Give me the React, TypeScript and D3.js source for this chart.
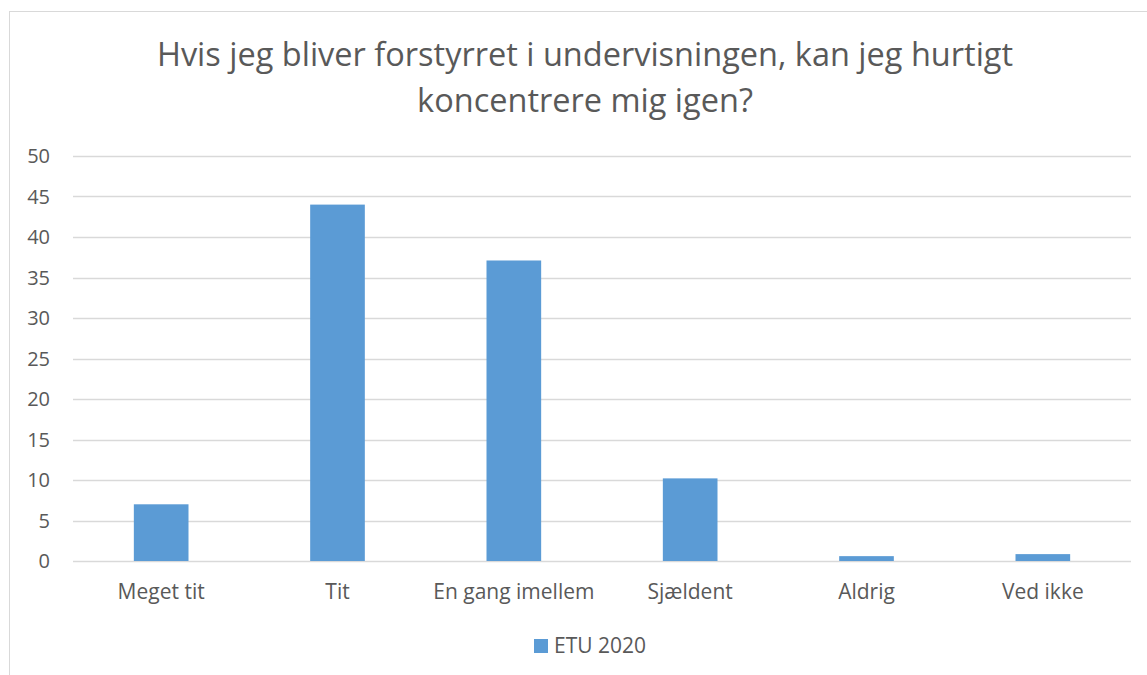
import React, { useRef, useEffect } from "react";
import * as d3 from "d3";

const categories = ["Meget tit", "Tit", "En gang imellem", "Sjældent", "Aldrig", "Ved ikke"];
const values = [7, 44, 37.1, 10.2, 0.6, 0.85];
const yTicks = [0, 5, 10, 15, 20, 25, 30, 35, 40, 45, 50];
const seriesName = "ETU 2020";
const titleLines = [
  "Hvis jeg bliver forstyrret i undervisningen, kan jeg hurtigt",
  "koncentrere mig igen?",
];

const App: React.FC = () => {
  const svgRef = useRef<SVGSVGElement>(null);

  const width = 1147;
  const height = 675;
  const margin = { top: 156, right: 16, bottom: 114, left: 73 };
  const font = "'Open Sans', 'Noto Sans', sans-serif";
  const textColor = "#595959";
  const barColor = "#5b9bd5";

  useEffect(() => {
    const svg = d3.select(svgRef.current);
    svg.selectAll("*").remove();

    const chartWidth = width - margin.left - margin.right;
    const chartHeight = height - margin.top - margin.bottom;

    // chart frame
    svg
      .append("rect")
      .attr("x", 9.5)
      .attr("y", 11.5)
      .attr("width", width + 20)
      .attr("height", height + 20)
      .attr("fill", "white")
      .attr("stroke", "#d9d9d9")
      .attr("stroke-width", 1);

    // Title
    svg
      .append("text")
      .attr("text-anchor", "middle")
      .style("font-family", font)
      .style("font-size", "32.5px")
      .style("fill", textColor)
      .selectAll("tspan")
      .data(titleLines)
      .join("tspan")
      .attr("x", 585)
      .attr("y", (_, i) => 66 + i * 46)
      .text((d) => d);

    const g = svg
      .append("g")
      .attr("transform", `translate(${margin.left},${margin.top})`);

    const x = d3
      .scaleBand()
      .domain(categories)
      .range([0, chartWidth])
      .paddingInner(0.69)
      .paddingOuter(0.345);

    const y = d3.scaleLinear().domain([0, 50]).range([chartHeight, 0]);

    // grid lines
    g.selectAll(".grid-line")
      .data(yTicks)
      .join("line")
      .attr("class", "grid-line")
      .attr("x1", 0)
      .attr("x2", chartWidth)
      .attr("y1", (d) => Math.round(y(d)) + 0.5)
      .attr("y2", (d) => Math.round(y(d)) + 0.5)
      .attr("stroke", "#d9d9d9")
      .attr("stroke-width", 1.3);

    // Y-axis labels
    g.selectAll(".y-label")
      .data(yTicks)
      .join("text")
      .attr("class", "y-label")
      .attr("x", -23)
      .attr("y", (d) => y(d))
      .attr("dy", "0.36em")
      .attr("text-anchor", "end")
      .style("font-family", font)
      .style("font-size", "20px")
      .style("fill", textColor)
      .text((d) => d);

    // bars
    g.selectAll(".bar")
      .data(values)
      .join("rect")
      .attr("class", "bar")
      .attr("x", (_, i) => x(categories[i])!)
      .attr("y", (d) => y(d))
      .attr("width", x.bandwidth())
      .attr("height", (d) => y(0) - y(d))
      .attr("fill", barColor);

    // X-axis labels
    g.selectAll(".x-label")
      .data(categories)
      .join("text")
      .attr("class", "x-label")
      .attr("x", (d) => x(d)! + x.bandwidth() / 2)
      .attr("y", chartHeight + 38)
      .attr("text-anchor", "middle")
      .style("font-family", font)
      .style("font-size", "21px")
      .style("fill", textColor)
      .text((d) => d);

    // Legend
    const legend = svg.append("g").attr("transform", "translate(534, 639)");
    legend
      .append("rect")
      .attr("width", 14)
      .attr("height", 14)
      .attr("fill", barColor);
    legend
      .append("text")
      .attr("x", 20)
      .attr("y", 14)
      .style("font-family", font)
      .style("font-size", "21px")
      .style("fill", textColor)
      .text(seriesName);
  }, []);

  return (
    <div style={{ position: "absolute", left: 0, top: 0, width, height, overflow: "hidden", background: "white" }}>
      <svg ref={svgRef} width={width} height={height} />
    </div>
  );
};

export default App;
